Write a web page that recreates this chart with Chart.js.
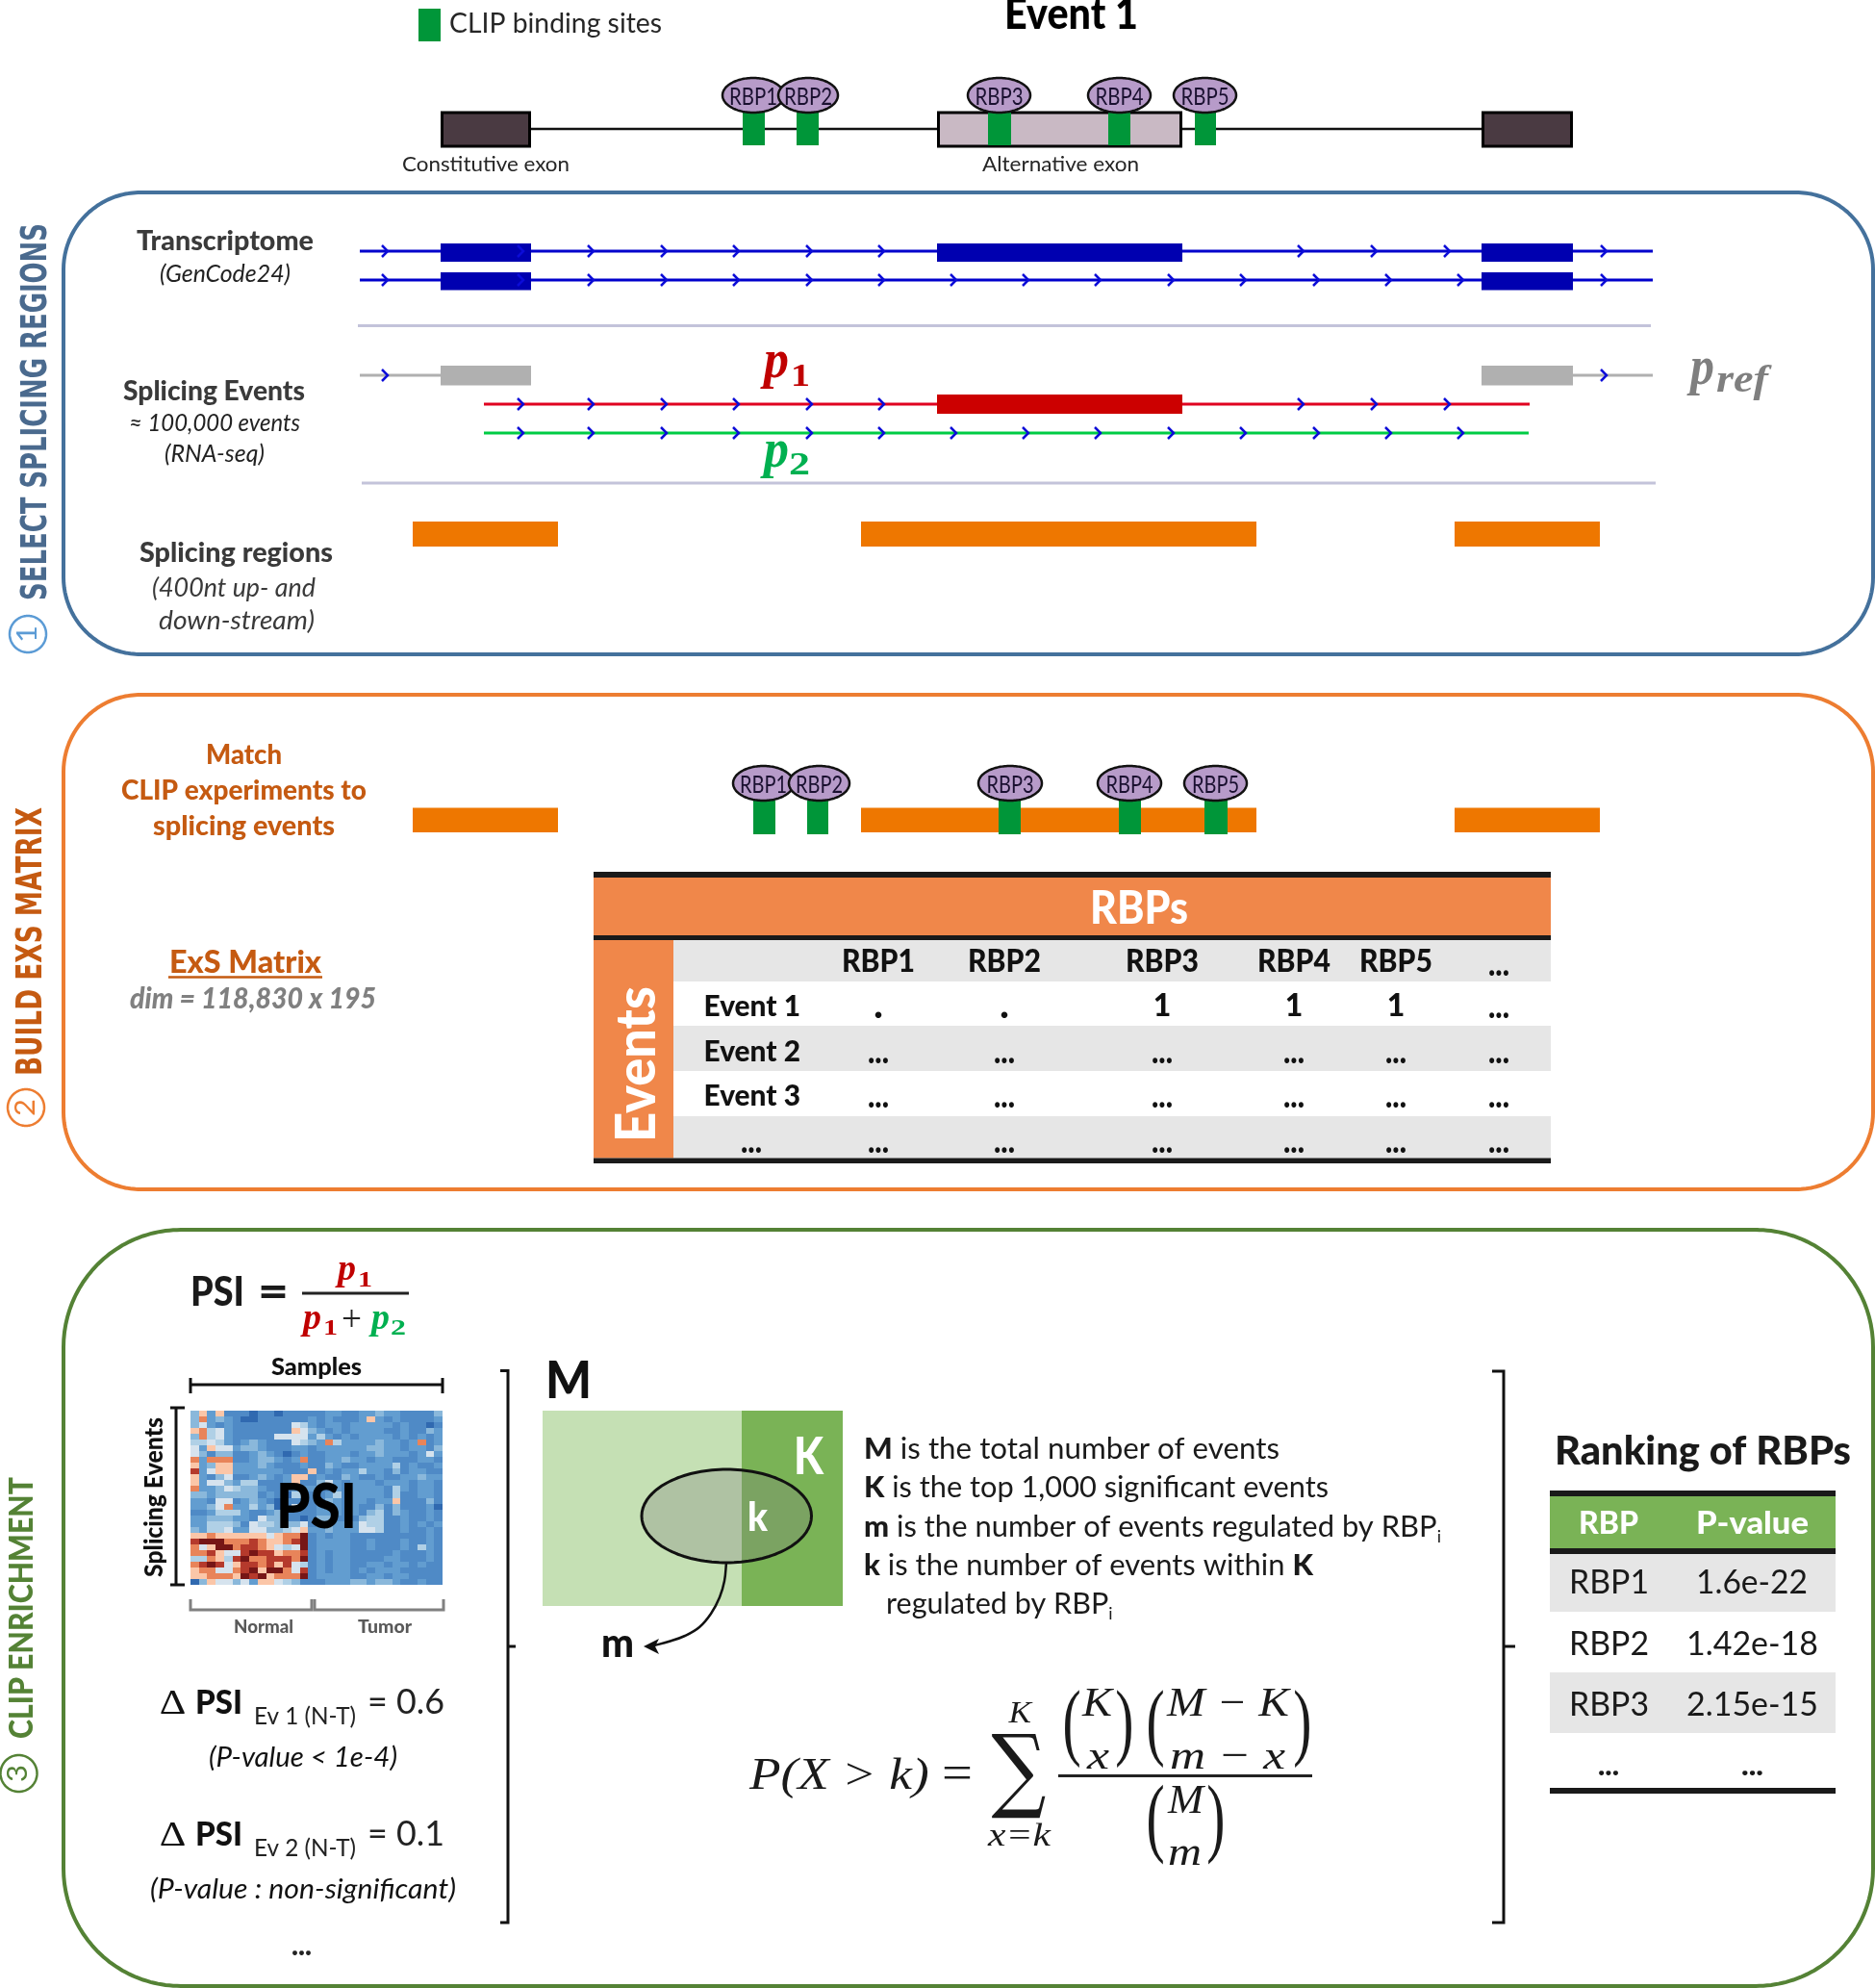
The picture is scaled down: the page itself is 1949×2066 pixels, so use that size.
<!DOCTYPE html>
<html><head><meta charset="utf-8">
<style>html,body{margin:0;padding:0;background:#fff}canvas{display:block}</style>
<script src="https://cdn.jsdelivr.net/npm/chart.js@4"></script>
</head><body><canvas id="c" width="1949" height="2066"></canvas>
<script>
// ---- values ----
const exonSpans = [[458,552],[974,1229],[1540,1635]];
const regionSpans = [[429,580],[895,1306],[1512,1663]];
const rbpLabels = ['RBP1','RBP2','RBP3','RBP4','RBP5'];
const clipSitesTop = [[772,795],[828,851],[1027,1051],[1152,1175],[1242,1264]];
const bubblesTop = [[751,815],[809,871],[1006,1071],[1131,1196],[1220,1285]];
const clipSitesMid = [[783,806],[839,861],[1038,1061],[1163,1186],[1252,1276]];
const bubblesMid = [[762,825],[820,883],[1017,1083],[1141,1207],[1231,1296]];
const chevA = [541,614,690,765,841,916,1352,1428,1504];
const chevB = [541,614,690,765,841,916,991,1066,1141,1217,1292,1368,1443,1518];
const matrixCols = [913,1044,1208,1345,1451,1558];
const matrixHead = ['RBP1','RBP2','RBP3','RBP4','RBP5','...'];
const matrixEvents = ['Event 1','Event 2','Event 3','...'];
const matrixEvent1 = ['.','.','1','1','1','...'];
const rankRbp = ['RBP1','RBP2','RBP3'];
const rankP = ['1.6e-22','1.42e-18','2.15e-15'];
const heatPalette = ['#761616','#b53a2c','#e8845a','#fbc6a8','#d6e3ee','#b0d0e6','#8ab8db','#629dd0','#4f8ac6','#3069b0'];
const heatRows = [
'637388898898888877887767788886','627678998888887878887378788887','647878888888457877877777878898',
'325478888888346787877778878867','625478888844447578787777878787','554578767888456725777767787287',
'473447667888778777777667787786','468668876789878877787767778747','272228876678728877677877888778',
'376337776788878867887777587887','174337777778883878775778687788','378648876787338788678878877677',
'374467558887388647877787778778','277645667888777887877778578778','667666668789568875877778588778',
'778448767898888867877877388868','776427757698488767878868688879','887555788768888777878658678878',
'776667784668898668886558878878','775556845566648667774558878787','675547744665437767774458878878',
'332333333432208787788888888878','100022212332108777788788878878','243002112345408777788788878578',
'221344101132218787788888788878','552351022111208787788887788878','210143112131458787788778778788',
'322442103002418787787877788888','332223010322208777788778778888','963446473345688877766766788788'];

// ---- builders ----
const DS = [], TX = [];
const LATO='Lato, Carlito, sans-serif', SERIF='"Liberation Serif", serif';
function line(pts,color,w,tension){DS.push({showLine:true,data:pts.map(p=>({x:p[0],y:p[1]})),borderColor:color,borderWidth:w,pointRadius:0,fill:false,tension:tension||0,borderCapStyle:'butt',borderJoinStyle:'miter'});}
function poly(pts,fill,stroke,w){const d=stroke?pts.concat([pts[0],pts[1]]):pts.concat([pts[0]]);DS.push({showLine:true,data:d.map(p=>({x:p[0],y:p[1]})),backgroundColor:fill,borderColor:stroke||'rgba(0,0,0,0)',borderWidth:w||0,pointRadius:0,fill:fill?'shape':false,tension:stroke?0.0001:0,borderCapStyle:'butt',borderJoinStyle:'miter'});}
function rect(x0,y0,x1,y1,fill,stroke,w){poly([[x0,y0],[x1,y0],[x1,y1],[x0,y1]],fill,stroke,w);}
function ell(x0,y0,x1,y1,fill,stroke,w){const p=[],cx=(x0+x1)/2,cy=(y0+y1)/2,a=(x1-x0)/2,b=(y1-y0)/2;for(let i=0;i<72;i++){const t=i/72*2*Math.PI;p.push([cx+a*Math.cos(t),cy+b*Math.sin(t)]);}poly(p,fill,stroke,w);}
function frame(x0,y0,x1,y1,r,color,w){const p=[];const c=[[x1-r,y0+r,-90],[x1-r,y1-r,0],[x0+r,y1-r,90],[x0+r,y0+r,180]];c.forEach(k=>{for(let i=0;i<=24;i++){const t=(k[2]+i*90/24)*Math.PI/180;p.push([k[0]+r*Math.cos(t),k[1]+r*Math.sin(t)]);}});poly(p,false,color,w);}
function chev(x,y){line([[x-3,y-6],[x+3,y],[x-3,y+6]],'#0c0cd8',2.5);}
function T(s,x0,x1,y,font,color){TX.push({k:'h',segs:[{s,font}],x0,x1,y,color});}
function C(s,cx,y,font,color,wid){const w=wid||0;TX.push({k:'c',segs:[{s,font}],cx,y,color,w});}
function RT(segs,x0,x1,y,color){TX.push({k:'h',segs,x0,x1,y,color});}
function R(s,x,yBottom,yTop,font,color){TX.push({k:'r',s,font,x,yBottom,yTop,color});}
function B(s,x0,y0,x1,y1,font,color){TX.push({k:'b',s,font,x0,y0,x1,y1,color});}
const F=(sz,st)=>{st=(st||'').replace('bold','900');return (st?st+' ':'')+sz+'px '+LATO;};
const M=(sz,st)=>(st?st+' ':'')+sz+'px '+SERIF;

// ---- frames ----
frame(66,200,1947,680,80,'#44719c',4);
frame(66,722,1947,1236,80,'#ed7d31',4);
frame(66,1278,1947,2064,122,'#548235',4);

// ---- legend and gene model ----
rect(435,9,458,43,'#009639');
T('CLIP binding sites',467,688,34,F(28),'#262626');
T('Event 1',1044,1183,30,F(46,'bold'),'#000');
line([[552,134],[1540,134]],'#111',2.5);
rect(459.5,117,550.5,152,'#4a3a42','#000',3);
rect(975.5,117,1227.5,152,'#c9b9c4','#000',3);
rect(1541.5,117,1633.5,152,'#4a3a42','#000',3);
clipSitesTop.forEach(c=>rect(c[0],117,c[1],151,'#009639'));
bubblesTop.forEach((b,i)=>{ell(b[0],81,b[1],117,'#b79bc9','#111',2.5);C(rbpLabels[i],(b[0]+b[1])/2,109,F(25),'#1a1030',50);});
T('Constitutive exon',418,592,178,F(22),'#262626');
T('Alternative exon',1021,1184,178,F(22),'#262626');

// ---- transcriptome tracks ----
[[261,253,272,true],[291,283,301.5,false]].forEach((r,i)=>{
  line([[374,r[0]],[1718,r[0]]],'#0000cc',3);
  rect(exonSpans[0][0],r[1],exonSpans[0][1],r[2],'#0000b0');
  if(r[3])rect(exonSpans[1][0],r[1],exonSpans[1][1],r[2],'#0000b0');
  rect(exonSpans[2][0],r[1],exonSpans[2][1],r[2],'#0000b0');
  [400,...(i?chevB:chevA),1667].forEach(x=>chev(x,r[0]));
});
line([[372,338.5],[1716,338.5]],'#c3c3da',3);
line([[374,390],[458,390]],'#b0b0b0',3);
line([[1635,390],[1718,390]],'#b0b0b0',3);
rect(458,380,552,400.5,'#b0b0b0');
rect(1540,380,1635,400.5,'#b0b0b0');
chev(400,390);chev(1667,390);
line([[503,420],[1590,420]],'#e00020',3);
rect(974,410,1229,430,'#cc0000');
chevA.forEach(x=>chev(x,420));
line([[503,450],[1589,450]],'#00cc44',3);
chevB.forEach(x=>chev(x,450));
line([[376,502],[1721,502]],'#c3c3da',3);
regionSpans.forEach(s=>rect(s[0],542,s[1],568,'#ee7700'));

T('p',794,820,392,M(56,'italic bold'),'#c00000');T('1',822,842,401,M(34,'bold'),'#c00000');
T('p',794,820,485,M(56,'italic bold'),'#00b050');T('2',820,842,493,M(34,'bold'),'#00b050');
T('p',1757,1782,399,M(56,'italic bold'),'#7f7f7f');T('ref',1784,1838,407,M(40,'italic bold'),'#7f7f7f');

const G1='#3a3a3a';
T('Transcriptome',142,326,260,F(29,'bold'),G1);
T('(GenCode24)',166,302,293,F(26,'italic'),'#222');
T('Splicing Events',128,317,416,F(29,'bold'),G1);
T('≈ 100,000 events',134,312,448,F(26,'italic'),'#222');
T('(RNA-seq)',171,275,480,F(26,'italic'),'#222');
T('Splicing regions',145,346,584,F(29,'bold'),G1);
T('(400nt up- and',158,328,620,F(27,'italic'),G1);
T('down-stream)',165,327,654,F(27,'italic'),G1);

// ---- side labels ----
R('SELECT SPLICING REGIONS',48,624,232,'bold 37px "DejaVu Sans"','#4a6a8e');
ell(10,640,48,678,false,'#5b9bd5',2.5);R('1',38,668,650,F(28),'#5b9bd5');
R('BUILD EXS MATRIX',43,1118,839,'bold 37px "DejaVu Sans"','#c55a11');
ell(8,1132,46,1170,false,'#ed7d31',2.5);R('2',36,1160,1142,F(28),'#ed7d31');
R('CLIP ENRICHMENT',34,1807,1535,F(34,'bold'),'#548235');
ell(0.5,1824,38.5,1862,false,'#548235',2.5);R('3',28,1852,1834,F(28),'#548235');

// ---- matching row ----
regionSpans.forEach(s=>rect(s[0],839.5,s[1],865,'#ee7700'));
clipSitesMid.forEach(c=>rect(c[0],832,c[1],867,'#009639'));
bubblesMid.forEach((b,i)=>{ell(b[0],796,b[1],832,'#b79bc9','#111',2.5);C(rbpLabels[i],(b[0]+b[1])/2,824,F(25),'#1a1030',49);});
const OR='#c55a11';
T('Match',214,293,794,F(29,'bold'),OR);
T('CLIP experiments to',126,381,831,F(29,'bold'),OR);
T('splicing events',159,348,868,F(29,'bold'),OR);
T('ExS Matrix',176,334,1011,F(33,'bold'),OR);
line([[175,1015.5],[335,1015.5]],OR,2.5);
T('dim = 118,830 x 195',135,391,1048,F(30,'bold italic'),'#808080');

// ---- matrix table ----
rect(617,912,1612,972,'#f0874a');
rect(617,977,700,1203.5,'#f0874a');
rect(700,977,1612,1020,'#e6e6e6');
rect(700,1066,1612,1113,'#e6e6e6');
rect(700,1160,1612,1203.5,'#e6e6e6');
rect(617,906,1612,912,'#1a1a1a');
rect(617,972,1612,977,'#1a1a1a');
rect(617,1203.5,1612,1209,'#1a1a1a');
T('RBPs',1133,1235,960,F(47,'bold'),'#fff');
R('Events',681,1187,1025,F(58,'bold'),'#fff');
const rowBase=[1056,1102.6,1149,1196];
matrixCols.forEach((cx,i)=>{
  const v=matrixHead[i];
  C(v,cx,v==='...'?1014:1010,F(v==='...'?36:32,'bold'),'#111',v==='...'?22:76);
  rowBase.forEach((y,r)=>{
    const s=r===0?matrixEvent1[i]:'...';
    if(s==='1')C(s,cx,y,F(32,'bold'),'#111');
    else if(s==='.')C(s,cx,y+2,F(40,'bold'),'#111');
    else C(s,cx,y+2,F(36,'bold'),'#111',22);
  });
});
matrixEvents.forEach((e,r)=>{
  if(e==='...')C(e,781,rowBase[r]+2,F(36,'bold'),'#111',22);
  else T(e,731.5,832,rowBase[r],F(30,'bold'),'#111');
});

// ---- PSI ----
T('PSI',198,254,1357,F(42,'bold'),'#1a1a1a');
T('=',268,300,1358,F(48,'bold'),'#1a1a1a');
line([[314,1344],[425,1344]],'#222',3);
T('p',351,370,1330,M(38,'italic bold'),'#c00000');T('1',372,387,1337,M(24,'bold'),'#c00000');
T('p',315,334,1381,M(38,'italic bold'),'#c00000');T('1',336,351,1387,M(24,'bold'),'#c00000');
T('+',355,376,1383,M(38),'#222');
T('p',386,405,1381,M(38,'italic bold'),'#00b050');T('2',406,422,1387,M(24,'bold'),'#00b050');
T('Samples',282,376,1429,F(24,'bold'),'#111');
line([[198,1439],[460,1439]],'#111',3);
line([[198,1432],[198,1448]],'#111',3);
line([[460,1432],[460,1448]],'#111',3);
R('Splicing Events',169,1639,1473,F(26,'bold'),'#111');
line([[183,1463],[183,1647]],'#111',3);
line([[177,1463],[192,1463]],'#111',3);
line([[177,1647],[192,1647]],'#111',3);
const hx=198,hy=1466,hw=262/30,hh=181/30,snap=Math.round;
heatRows.forEach((row,r)=>{[...row].forEach((v,c)=>{
  rect(snap(hx+c*hw),snap(hy+r*hh),snap(hx+(c+1)*hw),snap(hy+(r+1)*hh),heatPalette[+v]);
});});
T('PSI',287,371,1588,F(64,'bold'),'#000');
line([[198,1662],[198,1673],[324,1673],[324,1662]],'#808080',3);
line([[327,1662],[327,1673],[461,1673],[461,1662]],'#808080',3);
T('Normal',243,305,1697,F(19,'bold'),'#595959');
T('Tumor',372,428,1697,F(19,'bold'),'#595959');

[['Ev 1 (N-T)','= 0.6',1781,1792,'(P-value < 1e-4)',217,413,1836],
 ['Ev 2 (N-T)','= 0.1',1918,1929,'(P-value : non-significant)',156,474,1973]].forEach(r=>{
  B('Δ',167,r[2]-24,192,r[2],M(36),'#111');
  T('PSI',203,252,r[2],F(35,'bold'),'#111');
  T(r[0],264,370,r[3],F(25),'#222');
  T(r[1],382,462,r[2],F(36),'#222');
  T(r[4],r[5],r[6],r[7],F(28,'italic'),'#111');
});
T('...',303,324,2032,F(30,'bold'),'#222');

// ---- brackets ----
line([[520,1424.5],[528,1424.5],[528,1998],[520,1998]],'#111',3);
line([[528,1711],[536,1711]],'#111',3);
line([[1551,1425],[1563,1425],[1563,1998],[1551,1998]],'#111',3);
line([[1563,1711],[1575,1711]],'#111',3);

// ---- M/K venn ----
T('M',567,615,1453,F(54,'bold'),'#111');
rect(564,1466,771,1669,'#c5e0b4');
rect(771,1466,876,1669,'#7ab356');
T('K',825,856,1532,F(53,'bold'),'#fff');
ell(667,1527,843.5,1624,'rgba(127,127,127,0.3)','#111',3);
T('k',777,798,1591,F(42,'bold'),'#fff');
line([[755,1624],[753,1643],[748,1660],[739,1677],[727,1691],[712,1700],[695,1706],[680,1710]],'#111',2.5,0.4);
poly([[669,1711],[685,1703],[681,1711],[685,1719]],'#111');
T('m',625,659,1722,F(42,'bold'),'#111');

const D=F(31),DB=F(31,'bold'),DS2=F(18),col='#1a1a1a';
RT([{s:'M',font:DB},{s:' is the total number of events',font:D}],898,1330,1516,col);
RT([{s:'K',font:DB},{s:' is the top 1,000 significant events',font:D}],898,1381,1556,col);
RT([{s:'m',font:DB},{s:' is the number of events regulated by RBP',font:D},{s:'i',font:DS2,dy:6}],898,1498,1596.5,col);
RT([{s:'k',font:DB},{s:' is the number of events within ',font:D},{s:'K',font:DB}],898,1365,1636.5,col);
RT([{s:'regulated by RBP',font:D},{s:'i',font:DS2,dy:6}],921,1156.5,1677,col);

// ---- hypergeometric formula ----
const MI=M(47,'italic'),MK=M(43,'italic'),K='#1a1a1a';
RT([{s:'P(X > k) ',font:MI},{s:'=',font:M(50)}],779,1011,1859,K);
B('∑',1030.5,1801,1087,1890,'110px "DejaVu Serif"',K);
T('K',1048.5,1072,1789.5,M(32,'italic'),K);
T('x=k',1027,1092,1918,M(34,'italic'),K);
line([[1100,1845.6],[1364,1845.6]],'#222',3);
B('(',1107,1756,1122,1837,M(96),K);B(')',1161,1756,1176,1837,M(96),K);
T('K',1125,1156,1783,MK,K);T('x',1130,1153,1838,MK,K);
B('(',1194,1756,1209,1837,M(96),K);B(')',1346,1756,1361,1837,M(96),K);
T('M − K',1213,1340,1783,MK,K);T('m − x',1216,1336,1838,MK,K);
B('(',1194,1855,1209,1938,M(96),K);B(')',1256,1855,1271,1938,M(96),K);
T('M',1214,1251,1884,MK,K);T('m',1214,1249,1938,MK,K);

// ---- ranking table ----
T('Ranking of RBPs',1616,1924,1522,F(41,'bold'),'#1a1a1a');
rect(1611,1555,1908,1609,'#7ab356');
rect(1611,1615,1908,1675,'#e6e6e6');
rect(1611,1738,1908,1801,'#e6e6e6');
rect(1611,1549,1908,1555,'#1a1a1a');
rect(1611,1609,1908,1615,'#1a1a1a');
rect(1611,1858,1908,1864,'#1a1a1a');
T('RBP',1641,1703,1594,F(32,'bold'),'#fff');
T('P-value',1763,1880,1594,F(32,'bold'),'#fff');
[[1656,1763,1879],[1720,1753,1890],[1783,1753,1890]].forEach((r,i)=>{
  T(rankRbp[i],1631,1714,r[0],F(34),'#1a1a1a');
  T(rankP[i],r[1],r[2],r[0],F(34),'#1a1a1a');
});
T('...',1661,1683,1845,F(30,'bold'),'#1a1a1a');
T('...',1810,1833,1845,F(30,'bold'),'#1a1a1a');

// ---- text plugin ----
const textPlugin={id:'texts',afterDraw(ch){
  const c=ch.ctx,X=ch.scales.x,Y=ch.scales.y,px=v=>X.getPixelForValue(v),py=v=>Y.getPixelForValue(v);
  TX.forEach(t=>{
    c.save();c.fillStyle=t.color;c.textBaseline='alphabetic';c.textAlign='left';
    if(t.k==='r'){
      c.font=t.font;const w=c.measureText(t.s).width;
      c.translate(px(t.x),py(t.yBottom));c.rotate(-Math.PI/2);c.scale((py(t.yBottom)-py(t.yTop))/w,1);
      c.fillText(t.s,0,0);
    }else if(t.k==='b'){
      c.font=t.font;const m=c.measureText(t.s);
      const iw=m.actualBoundingBoxLeft+m.actualBoundingBoxRight,ih=m.actualBoundingBoxAscent+m.actualBoundingBoxDescent;
      c.translate(px(t.x0),py(t.y0));c.scale((px(t.x1)-px(t.x0))/iw,(py(t.y1)-py(t.y0))/ih);
      c.fillText(t.s,m.actualBoundingBoxLeft,m.actualBoundingBoxAscent);
    }else{
      let tot=0;t.segs.forEach(g=>{c.font=g.font;tot+=c.measureText(g.s).width;});
      let x0,sx;
      if(t.k==='c'){sx=t.w?t.w/tot:1;x0=px(t.cx)-tot*sx/2;}
      else{sx=(px(t.x1)-px(t.x0))/tot;x0=px(t.x0);}
      c.translate(x0,py(t.y));c.scale(sx,1);
      let a=0;t.segs.forEach(g=>{c.font=g.font;c.fillText(g.s,a,g.dy||0);a+=c.measureText(g.s).width;});
    }
    c.restore();
  });
}};

new Chart(document.getElementById('c'),{
  type:'scatter',
  data:{datasets:DS.slice().reverse()},
  options:{
    responsive:false,animation:false,devicePixelRatio:1,
    layout:{padding:0},
    events:[],
    plugins:{legend:{display:false},title:{display:false},tooltip:{enabled:false}},
    scales:{
      x:{type:'linear',min:0,max:1949,display:false},
      y:{type:'linear',min:0,max:2066,reverse:true,display:false}
    }
  },
  plugins:[textPlugin]
});
</script></body></html>
